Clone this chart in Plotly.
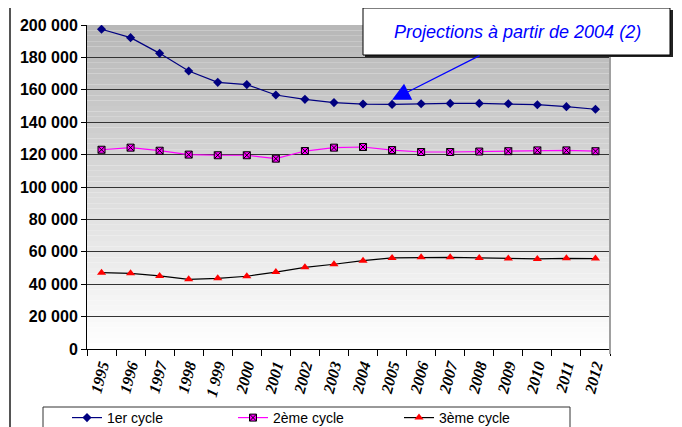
import plotly.graph_objects as go

years = ["1995", "1996", "1997", "1998", "1 999", "2000", "2001", "2002", "2003",
         "2004", "2005", "2006", "2007", "2008", "2009", "2010", "2011", "2012"]
cycle1 = [197400, 192200, 182500, 171600, 164600, 163200, 156800, 154100, 152100,
          151200, 151000, 151400, 151600, 151600, 151400, 150800, 149600, 148000]
cycle2 = [123000, 124300, 122400, 120000, 119600, 119600, 117500, 122200, 124300,
          124700, 122800, 121600, 121600, 121900, 122100, 122600, 122600, 122100]
cycle3 = [47100, 46700, 45100, 43000, 43600, 44900, 47500, 50400, 52300,
          54500, 56200, 56600, 56600, 56200, 55800, 55600, 56000, 55800]
names = ["1er cycle", "2ème cycle", "3ème cycle"]
y_ticks = [0, 20000, 40000, 60000, 80000, 100000, 120000, 140000, 160000, 180000, 200000]

OFF = 8                      # page body margin
W, H = 682 - OFF, 427 - OFF  # figure size
L, R, T, B = 87, 610, 25, 349  # plot area in page pixels


def px(x):
    return (x - L) / (R - L)


def py(y):
    return (B - y) / (B - T)


fig = go.Figure()
fig.add_trace(go.Scatter(x=years, y=cycle1, name=names[0], mode="lines+markers",
                         line=dict(color="#000080", width=1.2),
                         marker=dict(symbol="diamond", size=7, color="#000080")))
fig.add_trace(go.Scatter(x=years, y=cycle2, name=names[1], mode="lines+markers",
                         line=dict(color="#FF00FF", width=1.2),
                         marker=dict(symbol="square-x", size=7, color="#FF00FF",
                                     line=dict(color="black", width=1))))
fig.add_trace(go.Scatter(x=years, y=cycle3, name=names[2], mode="lines+markers",
                         line=dict(color="black", width=1.2),
                         marker=dict(symbol="triangle-up", size=8, color="#FF0000")))

shapes = []
# gradient background
n = 60
for i in range(n):
    f = i / (n - 1)
    c = int(184 + (255 - 184) * f)
    shapes.append(dict(type="rect", xref="paper", yref="paper",
                       x0=0, x1=1, y0=1 - (i + 1) / n, y1=1 - i / n,
                       fillcolor=f"rgb({c},{c},{c})", line=dict(width=0), layer="below"))
# right border of plot area
shapes.append(dict(type="line", xref="paper", yref="paper", x0=1, x1=1, y0=py(354), y1=1,
                   line=dict(color="#a0a0a0", width=2)))
# outer frame
shapes.append(dict(type="line", xref="paper", yref="paper", x0=px(10), x1=px(672),
                   y0=py(5), y1=py(5), line=dict(color="#333", width=1.5)))
shapes.append(dict(type="line", xref="paper", yref="paper", x0=px(10), x1=px(10),
                   y0=py(5), y1=py(440), line=dict(color="#555", width=2)))
# annotation box with shadow
shapes.append(dict(type="rect", xref="paper", yref="paper", x0=px(365), x1=px(673),
                   y0=py(57), y1=py(10), fillcolor="#222", line=dict(width=0)))
shapes.append(dict(type="rect", xref="paper", yref="paper", x0=px(363), x1=px(670),
                   y0=py(55), y1=py(8), fillcolor="white", line=dict(color="black", width=1)))
# legend box
shapes.append(dict(type="rect", xref="paper", yref="paper", x0=px(43), x1=px(570),
                   y0=py(445), y1=py(407), fillcolor="white", line=dict(color="#333", width=1)))

fig.update_layout(
    width=W, height=H,
    margin=dict(l=L - OFF, r=W - (R - OFF), t=T - OFF, b=H - (B - OFF), autoexpand=False),
    paper_bgcolor="white", plot_bgcolor="white",
    separators=", ",
    showlegend=True,
    shapes=shapes,
    legend=dict(orientation="h", xref="container", yref="container",
                x=(67 - OFF) / W, y=1 - (402 - OFF) / H, xanchor="left", yanchor="top",
                font=dict(family="Liberation Sans, Arial", size=14, color="black"),
                entrywidth=121, entrywidthmode="pixels", bgcolor="rgba(0,0,0,0)",
                itemwidth=30, tracegroupgap=0),
    annotations=[
        dict(xref="paper", yref="paper", x=px(517), y=py(32), xanchor="center",
             yanchor="middle", showarrow=False,
             text="Projections à partir de 2004 (2)",
             font=dict(family="Liberation Sans, Arial", size=18, color="#0000FF", style="italic")),
        dict(x=10, y=153800, xref="x", yref="y", text="", showarrow=True,
             ax=89, ay=-45, arrowcolor="#0000FF", arrowwidth=1.2, arrowhead=2, arrowsize=3),
    ],
)
fig.update_xaxes(type="category", categoryorder="array", categoryarray=years,
                 range=[-0.5, len(years) - 0.5], autorange=False,
                 tickson="boundaries", ticks="outside", ticklen=6, automargin=False,
                 tickcolor="black", showline=True, linecolor="black", linewidth=1,
                 showgrid=False, tickangle=-75,
                 tickfont=dict(family="Liberation Serif, Times New Roman", size=16,
                               color="black", weight="bold", style="italic"))
fig.update_yaxes(range=[0, 200000], autorange=False, tickvals=y_ticks, tickformat=",d",
                 showgrid=True, gridcolor="#333", gridwidth=1, automargin=False,
                 showline=True, linecolor="black", linewidth=1, zeroline=False,
                 ticks="outside", ticklen=5, tickcolor="black",
                 tickfont=dict(family="Liberation Sans, Arial", size=16, color="black",
                               weight="bold"))
fig.write_html("out.html")
